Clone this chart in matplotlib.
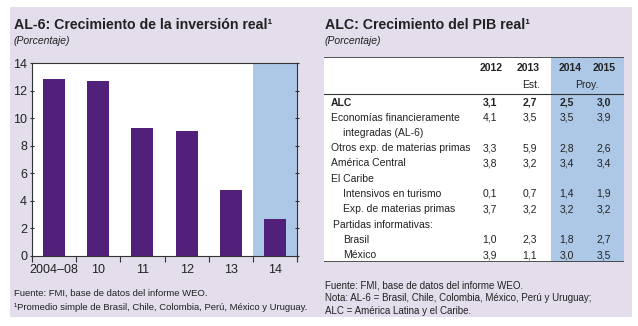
import matplotlib
matplotlib.use('Agg')
import matplotlib.pyplot as plt
from matplotlib import font_manager
from matplotlib.patches import Rectangle

# left panel data
periods = ['2004\u201308', '10', '11', '12', '13', '14']
inversion = [12.85, 12.7, 9.3, 9.1, 4.8, 2.65]

# right panel data
years = ['2012', '2013', '2014', '2015']
year_notes = ['', 'Est.', 'Proy.', '']
row_labels = ['ALC', 'Economías financieramente', 'integradas (AL-6)',
              'Otros exp. de materias primas', 'América Central', 'El Caribe',
              'Intensivos en turismo', 'Exp. de materias primas',
              'Partidas informativas:', 'Brasil', 'México']
row_indent = [0, 0, 1, 0, 0, 0, 1, 1, 0, 1, 1]
row_values = [
    ['3,1', '2,7', '2,5', '3,0'],
    ['4,1', '3,5', '3,5', '3,9'],
    None,
    ['3,3', '5,9', '2,8', '2,6'],
    ['3,8', '3,2', '3,4', '3,4'],
    None,
    ['0,1', '0,7', '1,4', '1,9'],
    ['3,7', '3,2', '3,2', '3,2'],
    None,
    ['1,0', '2,3', '1,8', '2,7'],
    ['3,9', '1,1', '3,0', '3,5'],
]

W, H = 638, 326
LAV = '#e3ddec'
BLUE = '#adc8e6'
PURPLE = '#50207a'
DARK = '#333333'
TXT = '#222222'
plt.rcParams['font.family'] = ['Liberation Sans', 'DejaVu Sans']

names = {f.name for f in font_manager.fontManager.ttflist}
if 'Liberation Sans Narrow' in names:
    TITLE_FONT, TITLE_SIZE = ['Liberation Sans Narrow', 'DejaVu Sans'], 12.5
else:
    TITLE_FONT, TITLE_SIZE = ['Liberation Sans', 'DejaVu Sans'], 10.2


def fx(x):
    return x / W


def fy(y):
    return 1 - y / H


fig = plt.figure(figsize=(W / 100, H / 100), dpi=100)
fig.patches.append(Rectangle((fx(10), fy(317)), fx(622), (317 - 7) / H,
                             transform=fig.transFigure, facecolor=LAV,
                             edgecolor='none', zorder=-5))

# ---- left panel: bars
fig.text(fx(14), fy(25), 'AL-6: Crecimiento de la inversión real\u00b9',
         fontsize=TITLE_SIZE, fontweight='bold', va='center', color=TXT,
         family=TITLE_FONT)
fig.text(fx(14), fy(41), '(Porcentaje)', fontsize=7.5, style='italic',
         va='center', color=TXT)

ax = fig.add_axes([fx(32), fy(256), fx(297 - 32), (256 - 63) / H])
ax.set_facecolor('white')
ax.axvspan(4.5, 5.5, color=BLUE, zorder=0, lw=0)
ax.bar(range(len(periods)), inversion, width=0.5, color=PURPLE, zorder=2)
ax.set_xlim(-0.5, 5.5)
ax.set_ylim(0, 14)
ax.set_yticks(range(0, 15, 2))
ax.set_xticks(range(len(periods)))
ax.set_xticklabels(periods)
ax.set_xticks([i + 0.5 for i in range(-1, 6)], minor=True)
ax.tick_params(axis='x', which='major', length=0, labelsize=9, pad=6,
               colors=TXT)
ax.tick_params(axis='x', which='minor', length=4, direction='out',
               color=DARK, width=0.8)
ax.tick_params(axis='y', which='both', left=True, right=True, length=3,
               direction='inout', labelsize=9, pad=2, color=DARK, width=0.8,
               labelcolor=TXT)
for s in ax.spines.values():
    s.set_color(DARK)
    s.set_linewidth(0.8)

fig.text(fx(14), fy(293), 'Fuente: FMI, base de datos del informe WEO.',
         fontsize=6.8, va='center', color=TXT)
fig.text(fx(14), fy(307),
         '\u00b9Promedio simple de Brasil, Chile, Colombia, Perú, México y Uruguay.',
         fontsize=6.8, va='center', color=TXT)

# ---- right panel: table
fig.text(fx(325), fy(25), 'ALC: Crecimiento del PIB real\u00b9',
         fontsize=TITLE_SIZE, fontweight='bold', va='center', color=TXT,
         family=TITLE_FONT)
fig.text(fx(325), fy(41), '(Porcentaje)', fontsize=7.5, style='italic',
         va='center', color=TXT)

tx0, tx1, ty0, ty1 = 324, 624, 57, 262
tab = fig.add_axes([fx(tx0), fy(ty1), fx(tx1 - tx0), (ty1 - ty0) / H])
tab.set_xlim(0, tx1 - tx0)
tab.set_ylim(ty1 - ty0, 0)
tab.axis('off')
tab.add_patch(Rectangle((0, 0), tx1 - tx0, ty1 - ty0, facecolor='white',
                        edgecolor='none', zorder=0))
tab.add_patch(Rectangle((551 - tx0, 0), tx1 - 551, ty1 - ty0,
                        facecolor=BLUE, edgecolor='none', zorder=1))
tab.plot([0, tx1 - tx0], [0, 0], color=DARK, lw=1.2, zorder=3)
tab.plot([0, tx1 - tx0], [ty1 - ty0, ty1 - ty0], color=DARK, lw=1.2, zorder=3)
tab.plot([0, tx1 - tx0], [94 - ty0, 94 - ty0], color=DARK, lw=0.8, zorder=3)

col_x = [503 - tx0, 540 - tx0, 582 - tx0, 616 - tx0]
for j, yr in enumerate(years):
    tab.text(col_x[j], 68 - ty0, yr, ha='right', va='center', fontsize=7.5,
             fontweight='bold', color=TXT, zorder=4)
tab.text(col_x[1], 85 - ty0, year_notes[1], ha='right', va='center',
         fontsize=7.5, color=TXT, zorder=4)
tab.text((col_x[2] + col_x[3]) / 2 - 12, 85 - ty0, year_notes[2],
         ha='center', va='center', fontsize=7.5, color=TXT, zorder=4)

num_x = [497 - tx0, 537 - tx0, 574 - tx0, 611 - tx0]
row_y0, row_dy = 102.5, 15.25
for i, label in enumerate(row_labels):
    y = row_y0 + i * row_dy - ty0
    bold = 'bold' if i == 0 else 'normal'
    x = (343 if row_indent[i] else 331) - tx0
    if label.startswith('Partidas'):
        x = 333 - tx0
    tab.text(x, y, label, ha='left', va='center', fontsize=7.5,
             fontweight=bold, color=TXT, zorder=4)
    if row_values[i] is not None:
        for j, v in enumerate(row_values[i]):
            tab.text(num_x[j], y, v, ha='right', va='center', fontsize=7.5,
                     fontweight=bold, color=TXT, zorder=4)

fig.text(fx(325), fy(285), 'Fuente: FMI, base de datos del informe WEO.',
         fontsize=7, va='center', color=TXT)
fig.text(fx(325), fy(298),
         'Nota: AL-6 = Brasil, Chile, Colombia, México, Perú y Uruguay;',
         fontsize=7, va='center', color=TXT)
fig.text(fx(325), fy(311), 'ALC = América Latina y el Caribe.',
         fontsize=7, va='center', color=TXT)

fig.savefig('out.png', dpi=100, facecolor='white')
